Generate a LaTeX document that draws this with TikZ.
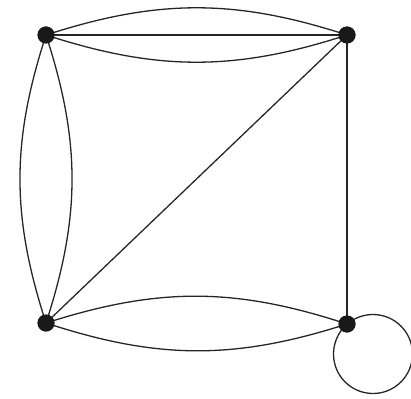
\documentclass[tikz,border=0pt]{standalone}
\begin{document}
\begin{tikzpicture}[x=1pt,y=-1pt,
  vert/.style={circle,fill=black!90,inner sep=0pt,minimum size=17pt},
  edge/.style={line width=1.3pt,black!85}]
\useasboundingbox (0,0) rectangle (411,398);
\node[vert] (tl) at (46,35) {};
\node[vert] (tr) at (347,35) {};
\node[vert] (bl) at (46,323) {};
\node[vert] (br) at (347,324) {};
\draw[edge] (tl.center) to[bend left=18] (tr.center);
\draw[edge] (tl.center) -- (tr.center);
\draw[edge] (tl.center) to[bend right=18] (tr.center);
\draw[edge] (tl.center) to[bend left=18] (bl.center);
\draw[edge] (tl.center) to[bend right=18] (bl.center);
\draw[edge] (bl.center) to[bend left=18] (br.center);
\draw[edge] (bl.center) to[bend right=18] (br.center);
\draw[edge] (bl.center) -- (tr.center);
\draw[edge] (tr.center) -- (br.center);
\coordinate (lc) at (373,354);
\draw[edge] (lc) circle[radius=39.5];
\node[vert] at (tl) {};
\node[vert] at (tr) {};
\node[vert] at (bl) {};
\node[vert] at (br) {};
\end{tikzpicture}
\end{document}
